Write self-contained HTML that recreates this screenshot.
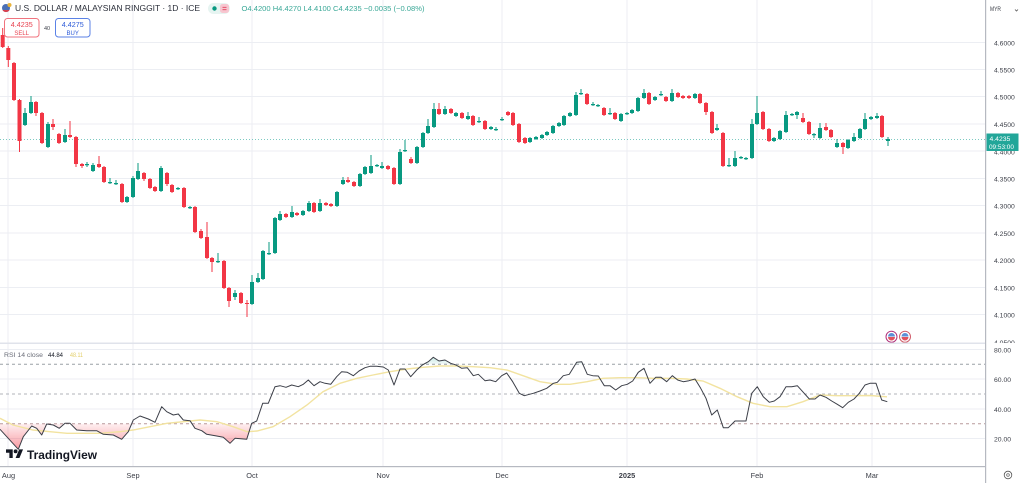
<!DOCTYPE html>
<html><head><meta charset="utf-8"><style>
html,body{margin:0;padding:0;background:#fff;}
svg{display:block;font-family:"Liberation Sans",sans-serif;}
</style></head><body>
<svg width="1024" height="483" viewBox="0 0 1024 483" xmlns="http://www.w3.org/2000/svg">
<defs>
<linearGradient id="rg" x1="0" y1="424" x2="0" y2="458" gradientUnits="userSpaceOnUse">
<stop offset="0" stop-color="#f23645" stop-opacity="0.08"/><stop offset="1" stop-color="#f23645" stop-opacity="0.65"/></linearGradient>
<linearGradient id="gg" x1="0" y1="364" x2="0" y2="350" gradientUnits="userSpaceOnUse">
<stop offset="0" stop-color="#089981" stop-opacity="0.05"/><stop offset="1" stop-color="#089981" stop-opacity="0.4"/></linearGradient>
<clipPath id="below30"><rect x="0" y="423.7" width="986" height="43"/></clipPath>
<clipPath id="above70"><rect x="0" y="344" width="986" height="20.3"/></clipPath>
<clipPath id="axclip"><rect x="986" y="0" width="38" height="343"/></clipPath>
</defs>
<rect width="1024" height="483" fill="#fff"/>
<!-- grid -->
<g stroke="#eceef3" stroke-width="1">
<path d="M8 0V466M133 0V466M252 0V466M383 0V466M502 0V466M627 0V466M757 0V466M872 0V466"/>
<path d="M0 42.5H985M0 69.5H985M0 96.5H985M0 124H985M0 151H985M0 178.5H985M0 205.5H985M0 233H985M0 260H985M0 287.5H985M0 314.5H985"/>
<path d="M0 349.5H985M0 379H985M0 409H985M0 438.5H985"/>
</g>
<!-- current price line -->
<path d="M0 139.5H986" stroke="#26a69a" stroke-opacity="0.6" stroke-dasharray="1 2" stroke-width="1"/>
<!-- candles -->
<g fill="none">
<path stroke="#f23645" stroke-width="1" d="M2.7 28V48M8.3 46V67M14 62V101M19.5 99V152M36 101V116M42 112V144M53 119V130M59 133V144M70 121V138M76 136V167M82 163V168M99 156V168M104 166V183M122 183V203M144 172V181M150 178V189M155 186V192M167 172V186M172 184V193M184 187V208M195 206V233M201 229V239M207 222V259M212 257V272M224 260V289M229 287V307M241 292V304M247 300V317M286 213V218M297 212V216M314 202V213M326 202V206M331 203V207M348 177V183M354 181V187M388 165V170M394 167V185M411 157V164M439 103V115M451 108V114M462 112V119M473 115V126M485 120V130M508 111V116M513 112V126M519 123V143M525 137V144M587 93V105M604 107V116M615 112V120M649 92V105M666 96V102M678 92V98M683 95V99M689 95V99M700 93V104M706 102V115M712 111V134M723 132V167M763 111V130M769 128V142M803 113V123M809 121V135M826 123V131M831 129V138M843 142V154M882 115V138"/>
<path stroke="#f23645" stroke-width="4" d="M2.7 35V47M8.3 48V60M14 63V100M19.5 100V141M36 102V113M42 113V143M53 124V127M59 134V143M70 135V137M76 137V164M82 164V166M99 164V167M104 167V182M122 184V202M144 173V179M150 179V188M155 187V191M167 173V184M172 185V192M184 188V207M195 207V232M201 231V238M207 237V258M212 258V262M224 261V288M229 288V301M241 293V303M247 303V304M286 214V217M297 213V215M314 203V212M326 203V205M331 204V206M348 180V182M354 182V186M388 166V169M394 168V184M411 159V163M439 109V114M451 109V113M462 113V118M473 116V125M485 121V129M508 112V115M513 113V125M519 124V142M525 138V143M587 94V104M604 108V115M615 113V119M649 93V104M666 97V101M678 93V97M683 96V98M689 96V98M700 94V103M706 103V112M712 112V133M723 133V166M763 112V129M769 129V141M803 118V122M809 122V134M826 127V130M831 130V137M843 143V147M882 116V137"/>
<path stroke="#089981" stroke-width="1" d="M25 108V126M31 96V114M48 122V148M65 129V143M87 162V167M93 163V172M110 178V184M116 180V185M127 196V203M133 176V198M138 163V180M161 166V192M178 187V190M190 206V209M218 253V263M235 290V300M252 275V305M258 273V283M263 250V280M269 242V255M275 217V254M280 211V221M292 206V218M303 210V216M309 201V212M320 199V212M337 191V207M343 177V185M360 173V187M365 166V175M371 155V174M377 164V167M382 162V169M400 149V185M405 140V152M417 146V164M423 132V148M428 119V134M434 103V128M445 106V115M456 112V117M468 112V120M479 117V123M491 126V130M496 127V131M502 117V121M530 137V143M536 136V140M542 134V139M547 131V136M553 125V134M559 122V127M564 115V126M570 112V117M576 92V116M581 89V95M593 102V106M598 104V107M610 108V115M621 113V122M627 112V115M632 109V114M638 97V112M644 89V99M655 96V101M661 91V96M672 89V102M695 93V99M717 124V131M729 158V167M735 151V167M741 156V159M746 157V160M752 119V159M757 96V125M774 137V142M780 130V140M786 111V133M792 113V116M797 111V119M814 133V138M820 123V139M837 139V148M848 139V149M854 133V142M860 128V139M865 113V130M871 116V120M877 113V119M888 137V146"/>
<path stroke="#089981" stroke-width="4" d="M25 113V125M31 102V113M48 124V147M65 135V142M87 164V165.2M93 165V171M110 182V183.2M116 183V184.2M127 197V202M133 178V197M138 171V179M161 168V191M178 188V189.2M190 207V208.2M218 261V262.2M235 293V297M252 282V304M258 278V282M263 251V279M269 253V254.2M275 218V253M280 214V220M292 212V217M303 211V215M309 203V211M320 203V211M337 192V206M343 180V184M360 174V186M365 167V174M371 166V173M377 165V166.2M382 166V168M400 152V184M405 150V151.2M417 147V163M423 133V147M428 126V133M434 109V127M445 109V114M456 113V116M468 116V119M479 121V122.2M491 127V129M496 129V130.2M502 119V120.2M530 138V142M536 137V139M542 135V138M547 132V135M553 126V133M559 123V126M564 116V125M570 113V116M576 95V115M581 93V94.2M593 104V105.2M598 105V106.2M610 113V114.2M621 114V121M627 113V114.2M632 110V113M638 98V111M644 93V98M655 97V100M661 94V95.2M672 93V101M695 94V98M717 128V130M729 165V166.2M735 158V166M741 157V158.2M746 158V159.2M752 124V158M757 113V124M774 138V141M780 131V139M786 115V132M792 114V115.2M797 112V115M814 134V135.2M820 128V138M837 143V147M848 140V148M854 137V141M860 129V138M865 119V129M871 117V119M877 116V118M888 139V141"/>
</g>
<!-- event icons -->
<g>
<circle cx="891.5" cy="336.7" r="5.5" fill="#fff" stroke="#b0307a" stroke-width="1"/>
<path d="M888 336.5a3.5 3.5 0 0 1 7 0z" fill="#5b8fd6"/><path d="M888 337a3.5 3.5 0 0 0 7 0z" fill="#e0525e"/>
<circle cx="905" cy="336.7" r="5.5" fill="#fff" stroke="#d05c6a" stroke-width="1"/>
<path d="M901.5 336.5a3.5 3.5 0 0 1 7 0z" fill="#5b8fd6"/><path d="M901.5 337a3.5 3.5 0 0 0 7 0z" fill="#e0525e"/>
</g>
<!-- pane separator -->
<rect x="0" y="342.5" width="986" height="1.5" fill="#e0e3eb"/>
<!-- RSI levels -->
<g stroke-width="1" stroke-dasharray="3 3">
<path d="M0 364.3H986" stroke="#9aa0a6"/>
<path d="M0 394H986" stroke="#b0b3ba"/>
<path d="M0 423.7H986" stroke="#b89a9c"/>
</g>
<!-- RSI fills -->
<g clip-path="url(#below30)">
<polygon fill="url(#rg)" points="0,429.3 18.3,449.3 23.3,436.7 31.7,426 36.7,428.3 41.7,435 46.7,424 53.3,425 59.3,428.3 65,423.3 70,423.3 76.7,430 86.7,430.7 96.7,430.7 103.3,434.3 113.3,435 121.7,439.3 128.3,431.7 133.3,420 140,416 148.3,419 155,422.3 161.7,406.7 166.7,411.7 173.3,415 178.3,414 183.3,420 190,420.7 195,428.3 201.7,430.7 206.7,434.3 216.7,436 223.3,437.3 230,443.3 235,438.3 246.7,439.3 251.7,423.3 256.7,421 262.7,403.3 270,400 270,423.7 0,423.7"/>
</g>
<g clip-path="url(#above70)">
<polygon fill="url(#gg)" points="416.7,370 422.3,365 428.3,361.7 433.3,357.3 439,361 445,360 450.7,363.3 456,365 461.7,368.3 461.7,364.3 416.7,364.3"/>
<polygon fill="url(#gg)" points="569.3,374.3 576.7,362.3 581.7,361.7 587.3,374.3 587.3,364.3 569.3,364.3"/>
</g>
<!-- RSI MA -->
<polyline fill="none" stroke="#f2e3a0" stroke-width="1.4" points="0,418.3 13,425 33,430 50,431.7 67,433.3 100,433.3 120,431.7 133,430 167,423.3 200,420 217,421.7 233,426.7 247,431.7 257,431 273,426.7 290,416.7 307,405 323,391.7 340,383.3 357,378.3 373,375 390,371.7 407,369 423,367.3 440,366 457,366 473,366.7 490,367.7 507,370 523,375.7 540,381.7 557,384.3 570,384.3 587,381.7 603,378.3 620,377.7 637,377.7 653,378.3 670,378.3 687,379 703,381 720,388.3 737,396.7 753,403.3 770,406.7 787,406.7 803,401.7 820,395 837,395.7 853,395.7 870,395.5 887,396.8"/>
<!-- RSI line -->
<polyline fill="none" stroke="#3c3f48" stroke-width="1" stroke-linejoin="round" points="0,429.3 18.3,449.3 23.3,436.7 31.7,426 36.7,428.3 41.7,435 46.7,424 53.3,425 59.3,428.3 65,423.3 70,423.3 76.7,430 86.7,430.7 96.7,430.7 103.3,434.3 113.3,435 121.7,439.3 128.3,431.7 133.3,420 140,416 148.3,419 155,422.3 161.7,406.7 166.7,411.7 173.3,415 178.3,414 183.3,420 190,420.7 195,428.3 201.7,430.7 206.7,434.3 216.7,436 223.3,437.3 230,443.3 235,438.3 246.7,439.3 251.7,423.3 256.7,421 262.7,403.3 268.3,403.3 275,386.7 280,385.7 286,387.3 291.7,385 298.3,386.7 303.3,384.3 308.3,380 314,385.7 320,381.7 325,383.3 330.7,384.3 336.7,376.7 341.7,371.7 347.3,372.3 353.3,375.7 359,371 365,367.7 370,366.3 376.7,366.3 383.3,367 388.3,370 394,385 400,369 405,369 410.7,376.7 416.7,370 422.3,365 428.3,361.7 433.3,357.3 439,361 445,360 450.7,363.3 456,365 461.7,368.3 467.3,367.7 473.3,375.7 478.3,374.3 485,380.7 490,380 495.7,381.7 501.7,375.7 506.7,373 512.7,381.7 519.3,393.3 524.3,395.7 533.3,393.3 540,391 546.7,388.3 553.3,383.3 557.3,382.3 563.3,375.7 569.3,374.3 576.7,362.3 581.7,361.7 587.3,374.3 592.7,375.7 598.3,376 604.3,385.7 610,385.7 615.7,390 621.7,385.7 627.3,384.3 632.7,381 638.3,372.3 644,368.3 650,383.3 655.7,377.3 661,377.3 666.7,381.7 672.3,375.7 677.7,380 683.3,381.7 689,380.7 695,379 700.7,388.3 706,398.3 711.7,415 717.3,410 723.3,427.7 728.3,427.7 735,421 740.7,421 746,421 751.7,393.3 757.3,386.7 763.3,396.7 769.3,402.3 774.3,401 780,396.7 786,386.7 791.7,386.7 797.3,385.7 803.3,392.3 809.3,399 815,399 820,395 826,397.3 831.7,401 837.3,404.3 842.7,407.7 848.3,402.3 854,399 859.3,393.3 865,385 870,383.3 876,383.3 881.7,400 887.3,401.7"/>
<!-- RSI legend -->
<text x="4" y="357" font-size="6.6" fill="#6a6d78" textLength="39" lengthAdjust="spacingAndGlyphs">RSI 14 close</text>
<text x="48" y="357" font-size="6.6" fill="#131722" textLength="15" lengthAdjust="spacingAndGlyphs">44.84</text>
<text x="70" y="357" font-size="6.6" fill="#e3cf6a" textLength="13" lengthAdjust="spacingAndGlyphs">48.11</text>
<!-- axes lines -->
<rect x="985" y="0" width="1.2" height="483" fill="#b6b9c1"/>
<rect x="0" y="466" width="986" height="1.2" fill="#b6b9c1"/>
<!-- price labels -->
<g font-size="6.8" fill="#3c3f48">
<text x="990" y="11" textLength="11" lengthAdjust="spacingAndGlyphs">MYR</text>
<path d="M1015 9.5l1.5 1.5 1.5-1.5" stroke="#555" fill="none" stroke-width="0.8"/>
<g clip-path="url(#axclip)">
<text x="994" y="45.3">4.6000</text>
<text x="994" y="72.3">4.5500</text>
<text x="994" y="99.3">4.5000</text>
<text x="994" y="126.8">4.4500</text>
<text x="994" y="154.3">4.4000</text>
<text x="994" y="181.3">4.3500</text>
<text x="994" y="208.3">4.3000</text>
<text x="994" y="235.8">4.2500</text>
<text x="994" y="262.8">4.2000</text>
<text x="994" y="290.3">4.1500</text>
<text x="994" y="317.3">4.1000</text>
<text x="994" y="344.8">4.0500</text>
</g>
<text x="994" y="352.3">80.00</text>
<text x="994" y="381.8">60.00</text>
<text x="994" y="411.8">40.00</text>
<text x="994" y="441.3">20.00</text>
</g>
<!-- price tag -->
<rect x="986.5" y="133.5" width="32" height="17.5" fill="#22a699"/>
<text x="989.5" y="141.2" font-size="6.8" fill="#fff">4.4235</text>
<text x="989" y="149" font-size="6.4" fill="#fff">09:53:00</text>
<!-- time labels -->
<g font-size="7.4" fill="#3c3f48" text-anchor="middle">
<text x="8.5" y="478">Aug</text>
<text x="133" y="478">Sep</text>
<text x="252" y="478">Oct</text>
<text x="383" y="478">Nov</text>
<text x="502" y="478">Dec</text>
<text x="627" y="478" font-weight="bold">2025</text>
<text x="757" y="478">Feb</text>
<text x="872" y="478">Mar</text>
</g>
<circle cx="1008" cy="475" r="3.8" fill="none" stroke="#555" stroke-width="0.8"/>
<circle cx="1008" cy="475" r="1.3" fill="none" stroke="#555" stroke-width="0.7"/>
<!-- TV logo -->
<g transform="translate(6,447.5) scale(0.48)" fill="#131722">
<path d="M14 22H7V11H0V4h14v18zM28 22h-8l7.5-18h8L28 22z"/><circle cx="20" cy="8" r="4"/>
</g>
<text x="27" y="459" font-size="12" font-weight="bold" fill="#131722" textLength="70" lengthAdjust="spacingAndGlyphs">TradingView</text>
<!-- header -->
<circle cx="6" cy="8" r="4" fill="#4a6fb5"/>
<path d="M2.5 10a4 4 0 0 0 7 0z" fill="#d9414e"/>
<circle cx="9.5" cy="5" r="2" fill="#e8b33a"/>
<text x="15" y="11" font-size="8.4" fill="#2a2e39" textLength="185" lengthAdjust="spacingAndGlyphs">U.S. DOLLAR / MALAYSIAN RINGGIT · 1D · ICE</text>
<rect x="208" y="3" width="22" height="11" rx="5.5" fill="#e6f4f1"/>
<circle cx="214.5" cy="8.5" r="2.2" fill="#089981"/>
<rect x="220" y="4" width="9" height="9" rx="2.5" fill="#f7c6d0"/>
<path d="M222.5 7.3h4M222.5 9.7h4" stroke="#e0405a" stroke-width="0.9"/>
<text x="241.5" y="11" font-size="7.4" fill="#3aa897" textLength="183" lengthAdjust="spacingAndGlyphs">O4.4200 H4.4270 L4.4100 C4.4235 −0.0035 (−0.08%)</text>
<!-- sell/buy -->
<rect x="4.5" y="18.5" width="34.5" height="18.5" rx="3" fill="#fff" stroke="#f0737e" stroke-width="1"/>
<text x="21.7" y="27" font-size="7.2" fill="#e8424f" text-anchor="middle">4.4235</text>
<text x="21.7" y="34.8" font-size="6" fill="#e8424f" text-anchor="middle">SELL</text>
<text x="47" y="30" font-size="5.5" fill="#3c3f48" text-anchor="middle">40</text>
<rect x="55.5" y="18.5" width="34.5" height="18.5" rx="3" fill="#fff" stroke="#5b82e6" stroke-width="1"/>
<text x="72.7" y="27" font-size="7.2" fill="#2d5bd8" text-anchor="middle">4.4275</text>
<text x="72.7" y="34.8" font-size="6" fill="#2d5bd8" text-anchor="middle">BUY</text>
</svg>
</body></html>
